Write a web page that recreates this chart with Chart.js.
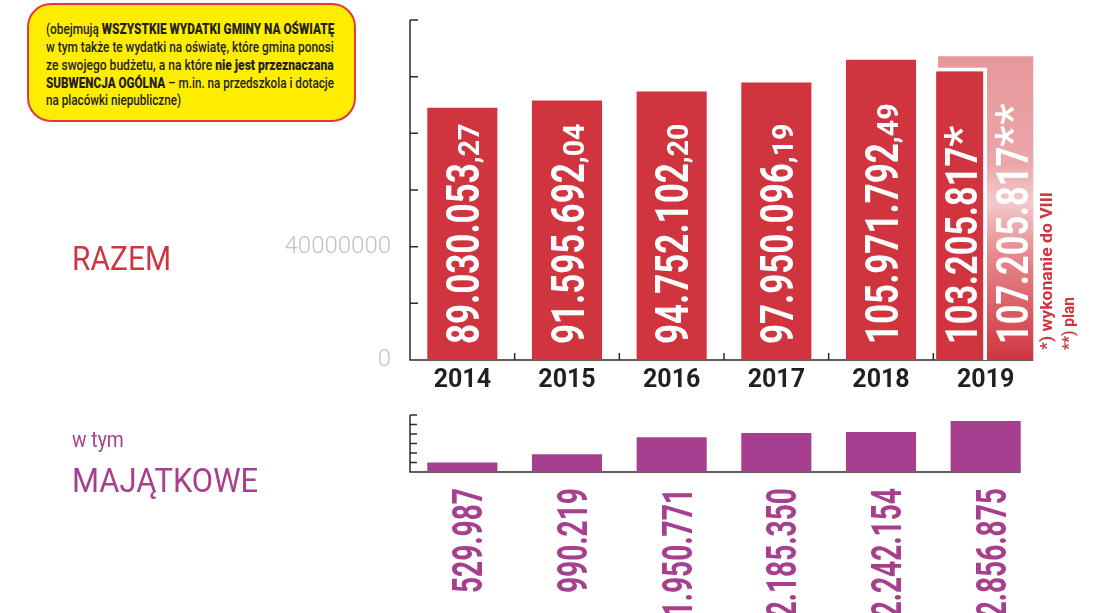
<!DOCTYPE html>
<html lang="pl">
<head>
<meta charset="utf-8">
<title>Wydatki gminy na oświatę 2014–2019</title>
<script src="https://cdn.jsdelivr.net/npm/chart.js@4.4.1/dist/chart.umd.min.js"></script>
<style>
  html, body { margin: 0; padding: 0; background: #fff; }
  body { width: 1118px; height: 613px; position: relative; overflow: hidden; font-family: Roboto, 'Noto Sans', sans-serif; }
  canvas { position: absolute; left: 0; }
  #wykresRazem { top: 0; }
  #wykresMajatkowe { top: 400px; }
  .ramka { position: absolute; left: 27px; top: 3px; width: 325px; height: 115px; background: #ffed00; border: 2px solid #e2383f; border-radius: 24px; }
  .linia { position: absolute; left: 46px; font-size: 15.5px; line-height: 17.9px; font-weight: 500; white-space: nowrap; color: #231f20; transform-origin: 0 0; }
  .linia b { font-weight: 900; }
  .opis { position: absolute; left: 72px; white-space: nowrap; transform-origin: 0 0; transform: scaleX(0.88); }
</style>
</head>
<body>
<canvas id="wykresRazem" width="1118" height="400"></canvas>
<canvas id="wykresMajatkowe" width="1118" height="213"></canvas>

<div class="ramka"></div>
<div class="linia" style="top:20.8px">(obejmują <b>WSZYSTKIE WYDATKI GMINY NA OŚWIATĘ</b></div>
<div class="linia" style="top:38.7px">w tym także te wydatki na oświatę, które gmina ponosi</div>
<div class="linia" style="top:56.6px">ze swojego budżetu, a na które <b>nie jest przeznaczana</b></div>
<div class="linia" style="top:74.5px"><b>SUBWENCJA OGÓLNA</b> – m.in. na przedszkola i dotacje</div>
<div class="linia" style="top:92.4px">na placówki niepubliczne)</div>

<div class="opis" style="top:240.5px; font-size:34px; line-height:34px; color:#d0353f">RAZEM</div>
<div class="opis" style="top:428.5px; font-size:22px; line-height:22px; color:#a63f8d">w tym</div>
<div class="opis" style="top:463.4px; font-size:34px; line-height:34px; color:#a63f8d; transform:scaleX(0.91)">MAJĄTKOWE</div>

<script>
const CZERWONY = '#d0353f';
const FIOLET = '#a63f8d';

const LATA = ['2014', '2015', '2016', '2017', '2018', '2019'];
// wydatki ogółem (2019 = wykonanie do VIII)
const RAZEM = [89030053.27, 91595692.04, 94752102.20, 97950096.19, 105971792.49, 103205817];
const PLAN_2019 = 107205817;
// w tym wydatki majątkowe
const MAJATKOWE = [529987, 990219, 1950771, 2185350, 2242154, 2856875];

const BAZOWE_OPCJE = {
    responsive: false,
    animation: false,
    devicePixelRatio: 1,
    plugins: { legend: { display: false }, tooltip: { enabled: false } }
};

const tylko2019 = v => LATA.map((_, i) => (i === 5 ? v : null));

function kropki(v) {
    return String(Math.trunc(v)).replace(/\B(?=(\d{3})+(?!\d))/g, '.');
}

/**
 * Rysuje napis obrócony o 90° (czytany od dołu). (x, y) = punkt linii bazowej.
 */
function napisPionowy(ctx, x, y, czesci, kolor, wyrownanie) {
    ctx.save();
    ctx.translate(x, y);
    ctx.rotate(-Math.PI / 2);
    ctx.fillStyle = kolor;
    ctx.textBaseline = 'alphabetic';
    ctx.textAlign = 'left';
    const szer = czesci.map(c => {
        ctx.font = c.font;
        const w = ctx.measureText(c.tekst).width;
        if (c.dl) c.sx = c.dl / w;
        return w * c.sx;
    });
    let pos = wyrownanie === 'right' ? -szer.reduce((a, b) => a + b, 0) : 0;
    czesci.forEach((c, i) => {
        ctx.save();
        ctx.translate(pos, 0);
        ctx.scale(c.sx, 1);
        ctx.font = c.font;
        ctx.fillText(c.tekst, 0, 0);
        ctx.restore();
        pos += szer[i];
    });
    ctx.restore();
}

/**
 * Osie z kreskami skierowanymi do środka wykresu.
 */
function osie({ dlugosc, kreskiMiedzy, koniec }) {
    return {
        id: 'osie',
        beforeDatasetsDraw(chart) {
            const { ctx, chartArea: a, scales: { x, y } } = chart;
            ctx.save();
            ctx.strokeStyle = '#2b2b2b';
            ctx.lineWidth = 1.5;
            ctx.beginPath();
            ctx.moveTo(a.left, a.top);
            ctx.lineTo(a.left, a.bottom);
            ctx.lineTo(koniec(chart), a.bottom);
            y.ticks.forEach(t => {
                const py = y.getPixelForValue(t.value);
                ctx.moveTo(a.left, py);
                ctx.lineTo(a.left + dlugosc, py);
            });
            if (kreskiMiedzy) {
                for (let i = 1; i < LATA.length; i++) {
                    const px = (x.getPixelForValue(i - 1) + x.getPixelForValue(i)) / 2;
                    ctx.moveTo(px, a.bottom);
                    ctx.lineTo(px, a.bottom - 7);
                }
            }
            ctx.stroke();
            ctx.restore();
        }
    };
}

const prawyBrzeg = indeks => chart => {
    const el = chart.getDatasetMeta(indeks).data[5];
    return el.x + el.width / 2;
};

class WykresSlupkowy {
    constructor({ canvasId }) {
        this.canvasId = canvasId;
    }

    getLabels() {
        return LATA;
    }

    getDatasets() {
        return [];
    }

    getScales() {
        return {};
    }

    getPadding() {
        return {};
    }

    getPlugins() {
        return [];
    }

    render() {
        const canvas = document.getElementById(this.canvasId);
        if (!canvas) return null;
        return new Chart(canvas, {
            type: 'bar',
            data: { labels: this.getLabels(), datasets: this.getDatasets() },
            options: { ...BAZOWE_OPCJE, layout: { padding: this.getPadding() }, scales: this.getScales() },
            plugins: this.getPlugins()
        });
    }
}

class WykresRazem extends WykresSlupkowy {
    getDatasets() {
        return [
            {
                label: 'wykonanie',
                data: RAZEM.map((v, i) => (i < 5 ? v : null)),
                backgroundColor: CZERWONY,
                categoryPercentage: 1,
                barPercentage: 0.67,
                skipNull: true
            },
            {
                label: 'wykonanie do VIII',
                data: tylko2019(RAZEM[5]),
                backgroundColor: CZERWONY,
                borderColor: '#ffffff',
                borderWidth: { top: 4, right: 4, bottom: 0, left: 0 },
                borderSkipped: false,
                categoryPercentage: 0.92,
                barPercentage: 1.06,
                skipNull: true
            },
            {
                // pusty słupek: robi miejsce po prawej stronie 2019
                label: '',
                data: tylko2019(0),
                backgroundColor: 'rgba(0,0,0,0)',
                categoryPercentage: 0.92,
                barPercentage: 1.06,
                skipNull: true
            },
            {
                label: 'plan',
                data: tylko2019(PLAN_2019),
                grouped: false,
                categoryPercentage: 1,
                barPercentage: 0.91,
                backgroundColor: ({ chart }) => {
                    const a = chart.chartArea;
                    if (!a) return '#e8989c';
                    const top = chart.scales.y.getPixelForValue(PLAN_2019);
                    const g = chart.ctx.createLinearGradient(0, top, 0, a.bottom);
                    g.addColorStop(0, '#e8989c');
                    g.addColorStop(0.35, '#eaa6a9');
                    g.addColorStop(0.48, '#f2cacb');
                    g.addColorStop(0.65, '#e68a8f');
                    g.addColorStop(1, '#d0353f');
                    return g;
                }
            }
        ];
    }

    getScales() {
        return {
            x: {
                grid: { display: false, drawTicks: false },
                border: { display: false },
                ticks: { color: '#231f20', padding: 6, maxRotation: 0, font: { family: 'Roboto', size: 25, weight: 'bold' } },
                afterFit: s => { s.height = 40; }
            },
            y: {
                min: 0,
                max: 120000000,
                grid: { display: false, drawTicks: false },
                border: { display: false },
                ticks: {
                    stepSize: 20000000,
                    padding: 19,
                    color: '#c2c2c2',
                    font: { family: 'Roboto', size: 24, weight: '300' },
                    callback: v => (v === 0 || v === 40000000 ? String(v) : '')
                },
                afterFit: s => {
                    s.width = 410;
                    s.paddingTop = 0;
                    s.paddingBottom = 0;
                }
            }
        };
    }

    getPadding() {
        return { top: 20, right: 80, left: 0, bottom: 0 };
    }

    getPlugins() {
        const napisy = {
            id: 'napisyRazem',
            afterDatasetsDraw(chart) {
                const { ctx } = chart;
                const slupki = chart.getDatasetMeta(0).data;
                RAZEM.slice(0, 5).forEach((v, i) => {
                    const grosze = ',' + v.toFixed(2).split('.')[1];
                    napisPionowy(ctx, slupki[i].x + 16.5, 344, [
                        { tekst: kropki(v), font: 'bold 46px Roboto', sx: 0.76 },
                        { tekst: grosze, font: 'bold 30px Roboto', sx: 0.95 }
                    ], '#ffffff');
                });
                const wyk = chart.getDatasetMeta(1).data[5];
                napisPionowy(ctx, wyk.x + 15.5, 344, [
                    { tekst: kropki(RAZEM[5]), font: 'bold 44px Roboto', sx: 0.78 },
                    { tekst: '*', font: '46px Roboto', sx: 1.1 }
                ], '#ffffff');
                const plan = chart.getDatasetMeta(3).data[5];
                napisPionowy(ctx, plan.x + plan.width / 4 + 19, 344, [
                    { tekst: kropki(PLAN_2019), font: 'bold 44px Roboto', sx: 0.78 },
                    { tekst: '**', font: '46px Roboto', sx: 1.1 }
                ], '#ffffff');
                // przypisy
                napisPionowy(ctx, 1052, 350, [{ tekst: '*) wykonanie do VIII', font: 'bold 16px Roboto', dl: 158 }], CZERWONY);
                napisPionowy(ctx, 1074, 350, [{ tekst: '**) plan', font: 'bold 16px Roboto', dl: 53 }], CZERWONY);
            }
        };
        return [osie({ dlugosc: 8, kreskiMiedzy: true, koniec: prawyBrzeg(3) }), napisy];
    }
}

class WykresMajatkowe extends WykresSlupkowy {
    getDatasets() {
        return [{
            label: 'majątkowe',
            data: MAJATKOWE,
            backgroundColor: FIOLET,
            categoryPercentage: 1,
            barPercentage: 0.67
        }];
    }

    getScales() {
        return {
            x: {
                grid: { display: false, drawTicks: false },
                border: { display: false },
                ticks: { display: false },
                afterFit: s => { s.height = 141; }
            },
            y: {
                min: 0,
                max: 3200000,
                grid: { display: false, drawTicks: false },
                border: { display: false },
                ticks: { display: false },
                afterBuildTicks: s => { s.ticks = [0, 1, 2, 3, 4, 5, 6].map(i => ({ value: i * 3200000 / 6 })); },
                afterFit: s => { s.width = 410; }
            }
        };
    }

    getPadding() {
        return { top: 15, right: 80, left: 0, bottom: 0 };
    }

    getPlugins() {
        const podpisy = {
            id: 'podpisyMajatkowe',
            afterDraw(chart) {
                const { ctx, chartArea: a, scales: { x } } = chart;
                MAJATKOWE.forEach((v, i) => {
                    const px = x.getPixelForValue(i) + 5;
                    napisPionowy(ctx, px + 15, a.bottom + 16, [
                        { tekst: kropki(v), font: 'bold 42px Roboto', sx: 0.67 }
                    ], FIOLET, 'right');
                });
            }
        };
        return [osie({ dlugosc: 7, kreskiMiedzy: false, koniec: prawyBrzeg(0) }), podpisy];
    }
}

new WykresRazem({ canvasId: 'wykresRazem' }).render();
new WykresMajatkowe({ canvasId: 'wykresMajatkowe' }).render();

// dopasowanie szerokości wierszy w żółtej ramce
const linie = [...document.querySelectorAll('.linia')];
let skala = 1;
linie.forEach((el, i) => {
    if (i < 4) skala = 288 / el.offsetWidth;
    el.style.transform = 'scaleX(' + skala + ')';
});
</script>
</body>
</html>
